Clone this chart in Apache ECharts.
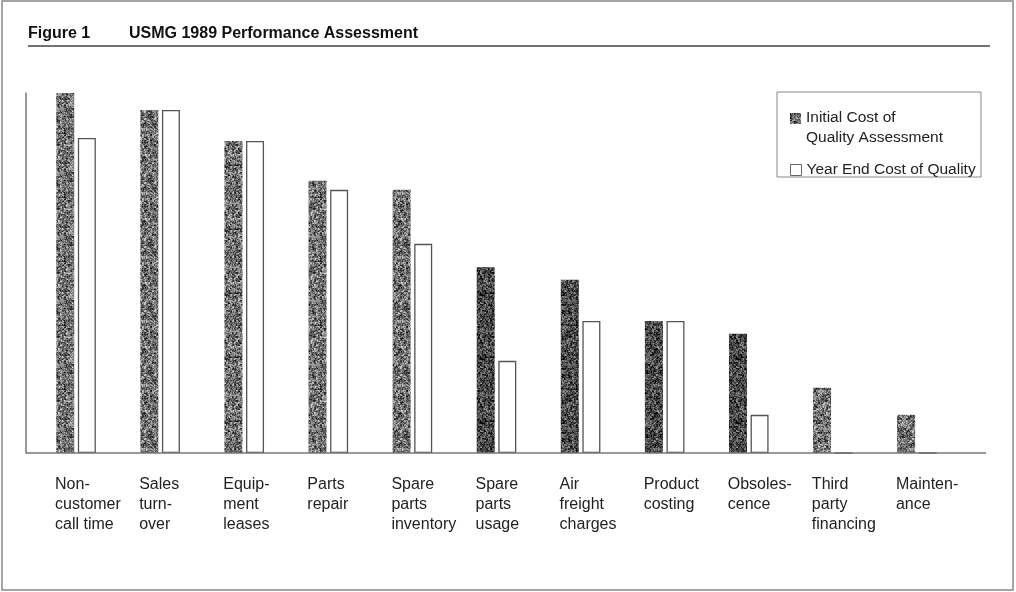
<!DOCTYPE html>
<html>
<head>
<meta charset="utf-8">
<script src="https://cdn.jsdelivr.net/npm/echarts@6/dist/echarts.min.js"></script>
<style>
html,body{margin:0;padding:0;background:#fff;}
#chart{width:1016px;height:592px;}
</style>
</head>
<body>
<div id="chart"></div>
<script>
// ---- data ----
var categories = [
  'Non-\ncustomer\ncall time',
  'Sales\nturn-\nover',
  'Equip-\nment\nleases',
  'Parts\nrepair',
  'Spare\nparts\ninventory',
  'Spare\nparts\nusage',
  'Air\nfreight\ncharges',
  'Product\ncosting',
  'Obsoles-\ncence',
  'Third\nparty\nfinancing',
  'Mainten-\nance'
];
var seriesNames = ['Initial Cost of\nQuality Assessment', 'Year End Cost of Quality'];
var initialCost = [100, 95.3, 86.7, 75.6, 73.1, 51.7, 48.1, 36.7, 33.1, 18.1, 10.6];
var yearEndCost = [87.5, 95.3, 86.7, 73.1, 58.1, 25.6, 36.7, 36.7, 10.6, 0, 0];
var titleText = 'Figure 1';
var subtitleText = 'USMG 1989 Performance Assessment';

// ---- styling helpers ----
var FONT = "'Liberation Sans', Arial, sans-serif";
function makeGrain(base, range) {
  var N = 64;
  var c = document.createElement('canvas');
  c.width = N; c.height = N;
  var ctx = c.getContext('2d');
  var img = ctx.createImageData(N, N);
  function h(x, y) {
    var s = Math.sin(x * 12.9898 + y * 78.233) * 43758.5453;
    return s - Math.floor(s);
  }
  for (var y = 0; y < N; y++) {
    for (var x = 0; x < N; x++) {
      var n = 0.5 * h(x, y) + 0.5 * h(Math.floor(x / 2) + 101, Math.floor(y / 2) + 37);
      var g = Math.max(0, Math.min(255, Math.round(base + (n - 0.5) * range)));
      var i = (y * N + x) * 4;
      img.data[i] = g; img.data[i + 1] = g; img.data[i + 2] = g; img.data[i + 3] = 255;
    }
  }
  ctx.putImageData(img, 0, 0);
  return { image: c, repeat: 'repeat' };
}
var grainNormal = makeGrain(112, 210);
var grainDark = makeGrain(72, 180);
var darkIdx = [5, 6, 7, 8];

var chart = echarts.init(document.getElementById('chart'));
chart.setOption({
  animation: false,
  backgroundColor: '#ffffff',
  title: [
    { text: titleText, left: 28, top: 26, padding: 0,
      textStyle: { fontFamily: FONT, fontSize: 16, fontWeight: 'bold', color: '#111' } },
    { text: subtitleText, left: 129, top: 26, padding: 0,
      textStyle: { fontFamily: FONT, fontSize: 16, fontWeight: 'bold', color: '#111' } }
  ],
  legend: [
    {
      data: [{ name: seriesNames[0], icon: 'path://M0,0H11V11H0Z M0,30H0.01V30.01H0Z',
               itemStyle: { color: grainNormal, borderWidth: 0 } }],
      left: 790, top: 108, padding: 0,
      itemWidth: 11, itemHeight: 30,
      selectedMode: false,
      textStyle: { fontFamily: FONT, fontSize: 15.5, lineHeight: 20, color: '#222' }
    },
    {
      data: [{ name: seriesNames[1], icon: 'rect',
               itemStyle: { color: '#fff', borderColor: '#666', borderWidth: 1 } }],
      left: 790, top: 160, padding: 0,
      itemWidth: 11, itemHeight: 11,
      selectedMode: false,
      textStyle: { fontFamily: FONT, fontSize: 15.5, lineHeight: 20, color: '#222' }
    }
  ],
  grid: { left: 34, right: 57, top: 93, bottom: 139, containLabel: false },
  xAxis: {
    type: 'category',
    data: categories,
    axisLine: { show: false },
    axisTick: { show: false },
    axisLabel: {
      interval: 0,
      margin: 22,
      align: 'center',
      formatter: function (v) {
        return v.split('\n').map(function (s) { return '{a|' + s + '}'; }).join('\n');
      },
      rich: {
        a: { width: 42, align: 'left', fontFamily: FONT, fontSize: 16, lineHeight: 20, color: '#222' }
      }
    }
  },
  yAxis: {
    type: 'value', min: 0, max: 100,
    offset: 8,
    axisLine: { show: true, lineStyle: { color: '#777', width: 1.5 } },
    axisTick: { show: false },
    axisLabel: { show: false },
    splitLine: { show: false }
  },
  series: [
    {
      name: seriesNames[0], type: 'bar', barWidth: 18, barGap: '20%',
      data: initialCost.map(function (v, i) {
        return { value: v, itemStyle: { color: darkIdx.indexOf(i) >= 0 ? grainDark : grainNormal } };
      }),
      itemStyle: { color: grainNormal }
    },
    {
      name: seriesNames[1], type: 'bar', barWidth: 18, barGap: '20%',
      data: yearEndCost,
      itemStyle: { color: '#fff', borderColor: '#555', borderWidth: 1.3 }
    }
  ],
  graphic: [
    { type: 'rect', shape: { x: 2, y: 1, width: 1011, height: 589 }, z: 0,
      style: { fill: 'none', stroke: '#888', lineWidth: 1.5 } },
    { type: 'line', shape: { x1: 28, y1: 46, x2: 990, y2: 46 }, z: 0,
      style: { stroke: '#444', lineWidth: 1.5 } },
    { type: 'rect', shape: { x: 777, y: 92, width: 204, height: 85 }, z: 0,
      style: { fill: 'none', stroke: '#888', lineWidth: 1 } },
    { type: 'line', shape: { x1: 26, y1: 453, x2: 986, y2: 453 }, z: 100,
      style: { stroke: '#777', lineWidth: 1.5 } }
  ]
});
</script>
</body>
</html>
